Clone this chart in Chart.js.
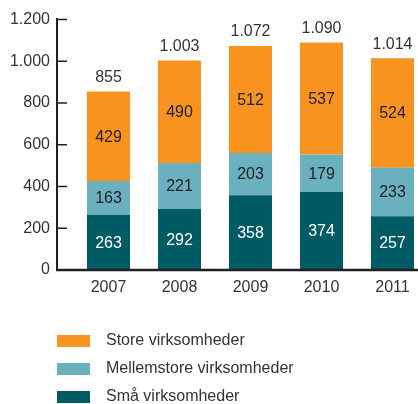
<!DOCTYPE html>
<html>
<head>
<meta charset="utf-8">
<script src="https://cdn.jsdelivr.net/npm/chart.js@4"></script>
<style>
  html, body { margin: 0; padding: 0; background: #fff; overflow: hidden; }
  #wrap { width: 418px; height: 404px; overflow: hidden; }
</style>
</head>
<body>
<div id="wrap"><canvas id="grafica" width="430" height="404"></canvas></div>
<script>
const years = ['2007', '2008', '2009', '2010', '2011'];
const store = [429, 490, 512, 537, 524];
const mellemstore = [163, 221, 203, 179, 233];
const smaa = [263, 292, 358, 374, 257];
const totals = [855, 1003, 1072, 1090, 1014];

const FONT = '"Liberation Sans", Arial, sans-serif';
const TEXT = '#333333';

function fmt(v) {
  return String(v).replace(/\B(?=(\d{3})+(?!\d))/g, '.');
}

// axis lines with inward ticks, value labels, totals and the legend
const decor = {
  id: 'decor',
  afterDatasetsDraw(chart) {
    const ctx = chart.ctx;
    const area = chart.chartArea;
    const y = chart.scales.y;
    const axisX = area.left - 16;
    ctx.save();
    ctx.strokeStyle = '#231f20';
    ctx.lineWidth = 2;
    ctx.beginPath();
    ctx.moveTo(axisX, area.top - 1.5);
    ctx.lineTo(axisX, area.bottom + 1);
    ctx.stroke();
    ctx.lineWidth = 2.5;
    ctx.beginPath();
    ctx.moveTo(axisX - 1, area.bottom);
    ctx.lineTo(chart.width, area.bottom);
    ctx.stroke();
    ctx.lineWidth = 1.5;
    y.ticks.forEach(t => {
      const py = y.getPixelForValue(t.value);
      if (t.value === 0) return;
      ctx.beginPath();
      ctx.moveTo(axisX, py);
      ctx.lineTo(axisX + 10, py);
      ctx.stroke();
    });

    ctx.font = '16px ' + FONT;
    ctx.textAlign = 'center';
    ctx.textBaseline = 'middle';
    chart.data.datasets.forEach((ds, i) => {
      const meta = chart.getDatasetMeta(i);
      meta.data.forEach((bar, j) => {
        ctx.fillStyle = ds.labelColor;
        ctx.fillText(fmt(ds.data[j]), bar.x, (bar.y + bar.base) / 2 + 1);
      });
    });
    const topMeta = chart.getDatasetMeta(chart.data.datasets.length - 1);
    topMeta.data.forEach((bar, j) => {
      ctx.fillStyle = TEXT;
      ctx.fillText(fmt(totals[j]), bar.x, bar.y - 14);
    });

    // legend, top series first
    const order = chart.data.datasets.slice().reverse();
    ctx.textAlign = 'left';
    order.forEach((ds, k) => {
      const cy = 341 + k * 28;
      ctx.fillStyle = ds.backgroundColor;
      ctx.fillRect(axisX, cy - 6, 33, 12);
      ctx.fillStyle = TEXT;
      ctx.fillText(ds.label, axisX + 49, cy);
    });
    ctx.restore();
  }
};

new Chart(document.getElementById('grafica'), {
  type: 'bar',
  data: {
    labels: years,
    datasets: [
      { label: 'Små virksomheder', data: smaa, backgroundColor: '#005b64', labelColor: '#ffffff' },
      { label: 'Mellemstore virksomheder', data: mellemstore, backgroundColor: '#6ab0be', labelColor: '#222222' },
      { label: 'Store virksomheder', data: store, backgroundColor: '#f7931e', labelColor: '#222222' }
    ]
  },
  options: {
    responsive: false,
    animation: false,
    categoryPercentage: 1,
    barPercentage: 0.606,
    layout: { padding: { top: 19.5, right: 2, left: 0, bottom: 0 } },
    plugins: {
      legend: { display: false },
      tooltip: { enabled: false }
    },
    scales: {
      x: {
        stacked: true,
        grid: { display: false, drawTicks: false },
        border: { display: false },
        ticks: { color: TEXT, font: { family: FONT, size: 16 }, padding: 8 },
        afterFit(scale) { scale.height = 134; }
      },
      y: {
        stacked: true,
        min: 0,
        max: 1200,
        grid: { display: true, drawOnChartArea: false, drawTicks: true, tickLength: 16, color: 'rgba(0,0,0,0)' },
        border: { display: false },
        ticks: {
          stepSize: 200,
          color: TEXT,
          padding: 7,
          font: { family: FONT, size: 16 },
          callback: v => fmt(v)
        },
        afterFit(scale) { scale.width = 73; }
      }
    }
  },
  plugins: [decor]
});
</script>
</body>
</html>
